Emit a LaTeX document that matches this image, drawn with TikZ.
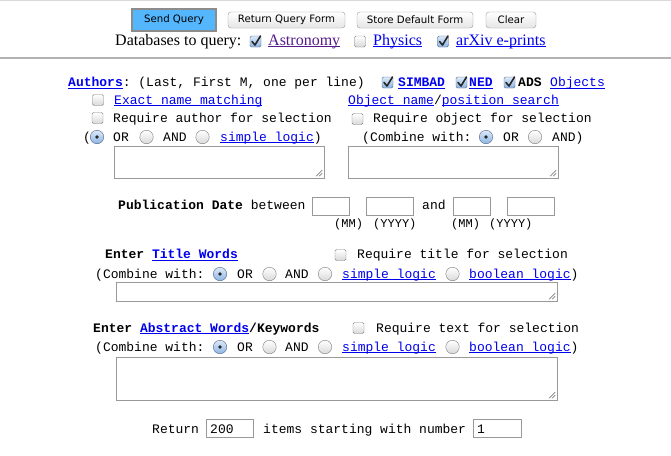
\documentclass[tikz,border=0pt]{standalone}
\usepackage{fontspec}
\setmainfont{Liberation Serif}
\setmonofont{Liberation Mono}
\newfontfamily\uifont{DejaVu Sans}

\definecolor{linkblue}{RGB}{0,0,238}
\definecolor{visited}{RGB}{85,26,139}
\definecolor{sendblue}{RGB}{84,182,252}
\definecolor{ontop}{RGB}{220,233,248}
\definecolor{onbot}{RGB}{140,180,228}
\definecolor{onedge}{RGB}{85,105,140}

\newcommand\cour{\ttfamily\fontsize{13}{15}\selectfont}
\newcommand\lnk[2][linkblue]{{\color{#1}\setbox0=\hbox{#2}\rlap{\rule[-2pt]{\wd0}{1pt}}\box0}}

\tikzset{
	txt/.style={font=\cour, inner sep=0pt, anchor=base west},
	lbl/.style={txt, font=\ttfamily\fontsize{12}{14}\selectfont},
	ser/.style={inner sep=0pt, anchor=base west, font=\rmfamily\fontsize{16}{18}\selectfont},
	btn/.style={draw=black!40, rounded corners=3pt, top color=white, bottom color=black!10,
		inner sep=0pt, font=\uifont\fontsize{10.2}{12}\selectfont, minimum height=16pt},
	sendbtn/.style={draw=black!45, line width=1.2pt, fill=sendblue, inner sep=0pt,
		font=\uifont\fontsize{10.2}{12}\selectfont, minimum width=84pt, minimum height=22pt},
	cb/.style={draw=black!50, rounded corners=1.5pt, top color=white, bottom color=black!15,
		minimum size=11pt, inner sep=0pt},
	cbon/.style={cb, draw=onedge, top color=ontop, bottom color=onbot},
	rd/.style={circle, draw=black!50, top color=white, bottom color=black!15,
		minimum size=13.5pt, inner sep=0pt},
	rdon/.style={rd, draw=onedge, top color=ontop, bottom color=onbot},
	field/.style={draw=black!40, inner sep=0pt},
	tick/.style={black!85, line width=1.6pt, line join=round, line cap=round},
	grip/.style={black!50, line width=0.6pt}
}

\begin{document}
\begin{tikzpicture}[x=1pt, y=-1pt]
\useasboundingbox (0,0) rectangle (671,455);
\fill[white] (0,0) rectangle (671,455);
\draw[black!15] (0,0.5) -- (671,0.5);
\draw[black!30, line width=1.5pt] (0,58) -- (671,58);

% buttons
\node[sendbtn] (bSend) at (174,20) {Send Query};
\node[btn, minimum width=117pt] (bRet) at (286.5,20) {Return Query Form};
\node[btn, minimum width=116pt] (bStore) at (415,20) {Store Default Form};
\node[btn, minimum width=50pt] (bClear) at (511,20) {Clear};

% databases
\node[ser] (dbLbl) at (115,45) {Databases to query:};
\node[cbon] (cbAstro) at (255.5,41.5) {};
\node[ser] (dbAstro) at (268,45) {\lnk[visited]{Astronomy}};
\node[cb] (cbPhys) at (360,41.5) {};
\node[ser] (dbPhys) at (373,45) {\lnk{Physics}};
\node[cbon] (cbArxiv) at (443,41.5) {};
\node[ser] (dbArxiv) at (456,45) {\lnk{arXiv e-prints}};

% authors and objects
\node[txt] (auLbl) at (68,86.5) {\lnk{\textbf{Authors}}: (Last, First M, one per line)};
\node[cbon] (cbSimbad) at (387.5,82.5) {};
\node[txt] (auSimbad) at (398,86.5) {\lnk{\textbf{SIMBAD}}};
\node[cbon] (cbNed) at (461.5,82.5) {};
\node[txt] (auNed) at (469,86.5) {\lnk{\textbf{NED}}};
\node[cbon] (cbAds) at (509.5,82.5) {};
\node[txt] (auAds) at (518,86.5) {\textbf{ADS}};
\node[txt] (auObj) at (550,86.5) {\lnk{Objects}};

\node[cb] (cbExact) at (98,100) {};
\node[txt] (auExact) at (114,104) {\lnk{Exact name matching}};
\node[txt] (obSearch) at (348,104) {\lnk{Object name}/\lnk{position search}};

\node[cb] (cbReqAu) at (97.5,118) {};
\node[txt] (auReq) at (113,122) {Require author for selection};
\node[cb] (cbReqOb) at (357.5,119) {};
\node[txt] (obReq) at (373,122) {Require object for selection};

\node[txt] (auParen) at (83,141) {(};
\node[rdon] (rAuOr) at (97,137) {};
\node[txt] (auOr) at (113,141) {OR};
\node[rd] (rAuAnd) at (146.5,137) {};
\node[txt] (auAnd) at (163,141) {AND};
\node[rd] (rAuSimple) at (202.5,137) {};
\node[txt] (auSimple) at (220,141) {\lnk{simple logic})};
\node[txt] (obComb) at (362,141) {(Combine with:};
\node[rdon] (rObOr) at (486,137) {};
\node[txt] (obOr) at (503,141) {OR};
\node[rd] (rObAnd) at (535,137) {};
\node[txt] (obAnd) at (552,141) {AND)};

\node[field, minimum width=210pt, minimum height=32pt] (taAu) at (219,162) {};
\node[field, minimum width=210pt, minimum height=32pt] (taOb) at (453,162) {};

% publication date
\node[txt] (pdLbl) at (118,209.5) {\textbf{Publication Date} between};
\node[field, minimum width=37pt, minimum height=18pt] (pdM1) at (330.5,206) {};
\node[field, minimum width=47pt, minimum height=18pt] (pdY1) at (389.5,206) {};
\node[txt] (pdAnd) at (422,209.5) {and};
\node[field, minimum width=37pt, minimum height=18pt] (pdM2) at (471.5,206) {};
\node[field, minimum width=47pt, minimum height=18pt] (pdY2) at (530.5,206) {};
\node[lbl] (pdMM1) at (334,227.5) {(MM)};
\node[lbl] (pdYY1) at (373,227.5) {(YYYY)};
\node[lbl] (pdMM2) at (451,227.5) {(MM)};
\node[lbl] (pdYY2) at (489,227.5) {(YYYY)};

% title words
\node[txt] (tiLbl) at (105,258.5) {\textbf{Enter} \lnk{\textbf{Title Words}}};
\node[cb] (cbTi) at (340.5,255) {};
\node[txt] (tiReq) at (357,258.5) {Require title for selection};
\node[txt] (tiComb) at (95,278) {(Combine with:};
\node[rdon] (rTiOr) at (220,274) {};
\node[txt] (tiOr) at (237,278) {OR};
\node[rd] (rTiAnd) at (269.5,274) {};
\node[txt] (tiAnd) at (285,278) {AND};
\node[rd] (rTiSimple) at (325,274) {};
\node[txt] (tiSimple) at (342,278) {\lnk{simple logic}};
\node[rd] (rTiBool) at (452.5,274) {};
\node[txt] (tiBool) at (469,278) {\lnk{boolean logic})};
\node[field, minimum width=441pt, minimum height=19pt] (taTi) at (336.5,291.5) {};

% abstract words
\node[txt] (abLbl) at (93,332) {\textbf{Enter} \lnk{\textbf{Abstract Words}}\textbf{/Keywords}};
\node[cb] (cbAb) at (358.5,328) {};
\node[txt] (abReq) at (376,332) {Require text for selection};
\node[txt] (abComb) at (95,351) {(Combine with:};
\node[rdon] (rAbOr) at (220,347) {};
\node[txt] (abOr) at (237,351) {OR};
\node[rd] (rAbAnd) at (269.5,347) {};
\node[txt] (abAnd) at (285,351) {AND};
\node[rd] (rAbSimple) at (325,347) {};
\node[txt] (abSimple) at (342,351) {\lnk{simple logic}};
\node[rd] (rAbBool) at (452.5,347) {};
\node[txt] (abBool) at (469,351) {\lnk{boolean logic})};
\node[field, minimum width=441pt, minimum height=43pt] (taAb) at (336.5,378.5) {};

% return
\node[txt] (reLbl) at (152,433) {Return};
\node[field, minimum width=47pt, minimum height=18pt] (fRet) at (229.5,428) {};
\node[txt] (reVal) at (210,433) {200};
\node[txt] (reItems) at (263,433) {items starting with number};
\node[field, minimum width=48pt, minimum height=18pt] (fNum) at (497,428) {};
\node[txt] (reNum) at (477,433) {1};

% ticks, dots, grips
\foreach \c in {cbAstro,cbArxiv,cbSimbad,cbNed,cbAds}
	\draw[tick] ([shift={(-3.5,0)}]\c.center) -- ([shift={(-0.5,3.5)}]\c.center)
		-- ([shift={(5,-5.5)}]\c.center);
\foreach \r in {rAuOr,rObOr,rTiOr,rAbOr}
	\fill[black!85] (\r) circle (1.8);
\foreach \t in {taAu,taOb,taTi,taAb} {
	\draw[grip] ([shift={(-8,-2)}]\t.south east) -- ([shift={(-2,-8)}]\t.south east);
	\draw[grip] ([shift={(-5,-2)}]\t.south east) -- ([shift={(-2,-5)}]\t.south east);
}
\end{tikzpicture}
\end{document}
